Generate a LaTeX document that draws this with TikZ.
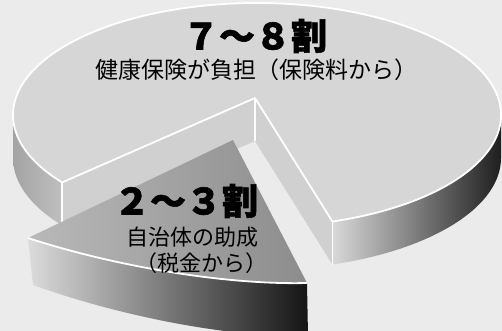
\documentclass[tikz,border=0pt]{standalone}
\usepackage{fontspec}
\newfontfamily\jpfont{Noto Sans CJK JP}[BoldFeatures={FakeBold=1.6}]
\usetikzlibrary{calc}

\begin{document}
\begin{tikzpicture}[x=1pt,y=-1pt,
    topface/.style={fill=gray!32},
    wall/.style={fill=gray!37},
    rim/.style={draw=white,line width=1.8pt,line join=round},
    bigtext/.style={font=\jpfont\bfseries\fontsize{36}{40}\selectfont,inner sep=0pt},
    smalltext/.style={font=\jpfont\fontsize{23}{26}\selectfont,inner sep=0pt}
]

%------------------------ 基本参数 ------------------------
\def\cx{257}   % 大饼中心 x
\def\cy{115}   % 大饼中心 y
\def\rx{244}   % 椭圆半长轴
\def\ry{112}   % 椭圆半短轴
\def\h{43}     % 大饼厚度
\coordinate (C) at (\cx,\cy);
\coordinate (A) at (255,98);                        % 切口顶点
\coordinate (L) at ($(C)+(143:{\rx} and {\ry})$);   % 左切口
\coordinate (R) at ($(C)+(72:{\rx} and {\ry})$);    % 右切口
\coordinate (Ab) at ($(A)+(0,\h)$);
\coordinate (Lb) at ($(L)+(0,\h)$);
\coordinate (Rb) at ($(R)+(0,\h)$);

% 小块
\coordinate (S) at (233,140);
\coordinate (P) at (28,238);
\coordinate (Q) at (307,283);
\coordinate (Pb) at (33,285);
\coordinate (Qb) at (308,336);

% 背景
\fill[gray!16] (0,0) rectangle (502,331);
\useasboundingbox (0,0) rectangle (502,331);

%------------------------ 大饼 ------------------------
% 侧面
\path[left color=gray!72,middle color=gray!25,right color=gray!50]
  (L) arc[start angle=143,end angle=180,x radius=\rx,y radius=\ry]
  -- ++(0,\h) arc[start angle=180,end angle=143,x radius=\rx,y radius=\ry] -- cycle;
\path[left color=gray!30,right color=black!88]
  (R) arc[start angle=72,end angle=0,x radius=\rx,y radius=\ry]
  -- ++(0,\h) arc[start angle=0,end angle=72,x radius=\rx,y radius=\ry] -- cycle;

% 切口两面
\fill[wall] (A) -- (L) -- (Lb) -- (Ab) -- cycle;
\fill[wall] (A) -- (R) -- (Rb) -- (Ab) -- cycle;

% 顶面
\fill[topface] (A) -- (R) arc[start angle=72,end angle=-217,x radius=\rx,y radius=\ry] -- cycle;
\draw[rim] (L) -- (A) -- (R) arc[start angle=72,end angle=-217,x radius=\rx,y radius=\ry];
\draw[rim] (L) -- (Lb);
\draw[rim] (A) -- (Ab);
\draw[rim] (R) -- (Rb);

%------------------------ 小块 ------------------------
\path[left color=gray!28,middle color=gray!70,right color=black!92]
  (P) .. controls (120,268) and (230,285) .. (Q) -- (Qb)
  .. controls (235,338) and (125,318) .. (Pb) -- cycle;
\path[left color=gray!55,right color=gray!90]
  (S) -- (P) .. controls (120,268) and (230,285) .. (Q) -- cycle;
\draw[rim] (P) .. controls (120,268) and (230,285) .. (Q);

%------------------------ 文字 ------------------------
\node[bigtext] (bigMain) at (255,36) {７～８割};
\node[smalltext] (subMain) at (256,70) {健康保険が負担（保険料から）};
\node[bigtext] (bigSub) at (186,201) {２～３割};
\node[smalltext,font=\jpfont\fontsize{22}{26}\selectfont] (subSubA) at (192,237) {自治体の助成};
\node[smalltext,font=\jpfont\fontsize{22}{26}\selectfont] (subSubB) at (201,263) {（税金から）};

\end{tikzpicture}
\end{document}
